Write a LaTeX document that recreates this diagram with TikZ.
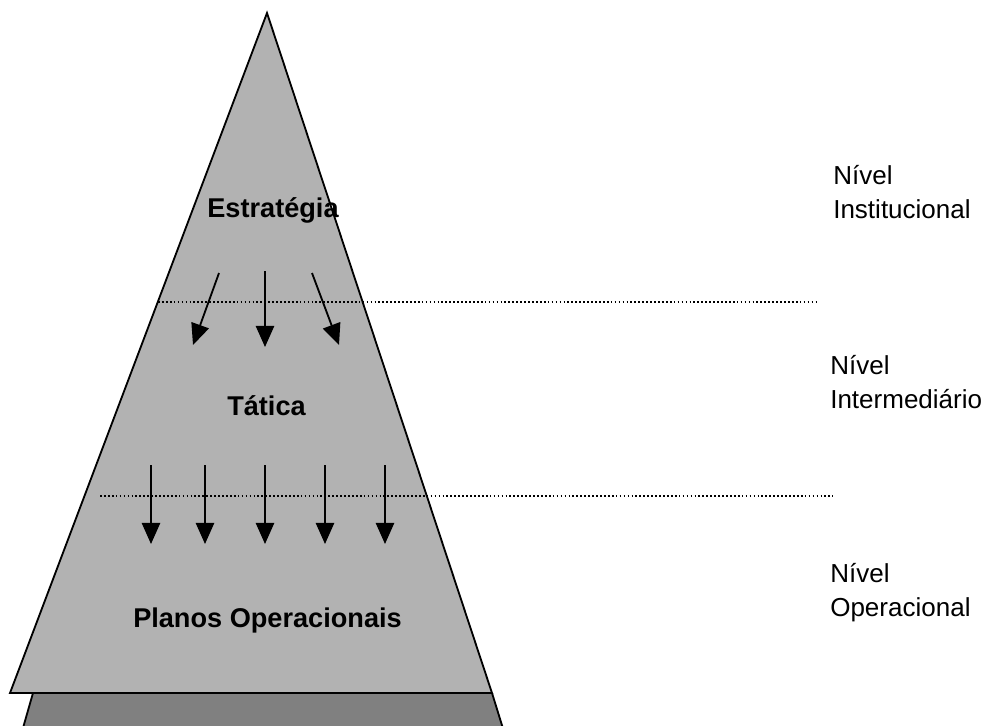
\documentclass[tikz,border=0pt]{standalone}
\usepackage{fontspec}
\setmainfont{Liberation Sans}
\usetikzlibrary{arrows.meta}

\definecolor{pyrgray}{RGB}{178,178,178}
\definecolor{basegray}{RGB}{128,128,128}

\begin{document}
\begin{tikzpicture}[x=0.025cm,y=-0.025cm,
	seta/.style={-{Triangle[length=15pt,width=13pt]}, line width=1.3pt},
	linha/.style={line width=0.75pt, dash pattern=on 1.2pt off 1.6pt},
	titulo/.style={anchor=base, inner sep=0pt, font=\fontsize{19.3}{23}\selectfont\bfseries},
	nivel/.style={anchor=base west, inner sep=0pt, align=left, font=\fontsize{18.5}{23.5}\selectfont}]

	\useasboundingbox (0,0) rectangle (984,725);

	% base escura (segunda camada)
	\fill[basegray] (33,693) -- (492,693) -- (505,735) -- (21,735) -- cycle;
	\draw[line width=1.3pt] (33,693) -- (21,735);
	\draw[line width=1.3pt] (492,693) -- (505,735);

	% piramide
	\draw[fill=pyrgray, line width=1.3pt, line join=miter] (267,13) -- (492,693) -- (10,693) -- cycle;

	\node (Est)[titulo] at (273,217) {Estratégia};
	\node (Tat)[titulo] at (266.5,415) {Tática};
	\node (Pla)[titulo] at (267.5,627) {Planos Operacionais};

	\node (N1)[nivel] at (833,218) {Nível\\Institucional};
	\node (N2)[nivel] at (830,408) {Nível\\Intermediário};
	\node (N3)[nivel] at (830,616) {Nível\\Operacional};

	\coordinate (L1a) at (158,302);
	\coordinate (L1b) at (817,302);
	\coordinate (L2a) at (100,496);
	\coordinate (L2b) at (833,496);
	\draw [linha] (L1a) to (L1b);
	\draw [linha] (L2a) to (L2b);

	% estrategia -> tatica
	\coordinate (A1) at (219,273); \coordinate (B1) at (193,345);
	\coordinate (A2) at (265,271); \coordinate (B2) at (265,347);
	\coordinate (A3) at (312,273); \coordinate (B3) at (339,345);
	\draw [seta] (A1) to (B1);
	\draw [seta] (A2) to (B2);
	\draw [seta] (A3) to (B3);

	% tatica -> operacional
	\coordinate (C1) at (151,465); \coordinate (D1) at (151,544);
	\coordinate (C2) at (205,465); \coordinate (D2) at (205,544);
	\coordinate (C3) at (265,465); \coordinate (D3) at (265,544);
	\coordinate (C4) at (325,465); \coordinate (D4) at (325,544);
	\coordinate (C5) at (385,465); \coordinate (D5) at (385,544);
	\draw [seta] (C1) to (D1);
	\draw [seta] (C2) to (D2);
	\draw [seta] (C3) to (D3);
	\draw [seta] (C4) to (D4);
	\draw [seta] (C5) to (D5);

\end{tikzpicture}
\end{document}
